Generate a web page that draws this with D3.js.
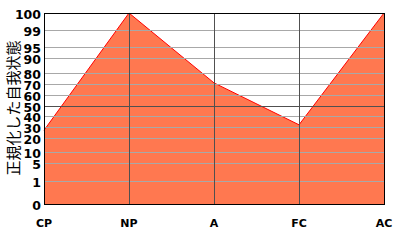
<!DOCTYPE html>
<html><head><meta charset="utf-8">
<script src="https://cdn.jsdelivr.net/npm/d3@7"></script>
<style>html,body{margin:0;padding:0;background:#fff;}svg{display:block;}</style>
</head><body>
<svg id="chart" width="400" height="240"></svg>
<script>
const categories = ["CP", "NP", "A", "FC", "AC"];
const values = [27, 100, 71, 32, 100];
const yTicks = [0, 1, 5, 10, 20, 30, 40, 50, 60, 70, 80, 90, 95, 99, 100];
const yTickLabels = ["0", "1", "5", "10", "20", "30", "40", "50", "60", "70", "80", "90", "95", "99", "100"];
// relative vertical position of each tick (0 = bottom, 1 = top) on the normalized scale
const yTickPos = [0, 23/191, 41/191, 52/191, 66/191, 77/191, 88/191, 98/191, 109/191, 120/191, 131/191, 146/191, 157/191, 174/191, 1];
const yTitle = "正規化した自我状態";

const svg = d3.select("#chart");
const m = {left: 44, right: 16, top: 13, bottom: 36};
const W = 400, H = 240;
const x = d3.scalePoint().domain(categories).range([m.left, W - m.right]);
const y0 = d3.scaleLinear().domain([0, 1]).range([H - m.bottom, m.top]);
const y = d3.scaleLinear().domain(yTicks).range(yTickPos.map(p => Math.round(y0(p))));

// area
const area = d3.area().x((d, i) => x(categories[i])).y0(y(0)).y1(d => y(d));
svg.append("path").datum(values).attr("d", area).attr("fill", "#FF7850");
const line = d3.line().x((d, i) => x(categories[i])).y(d => y(d));
svg.append("path").datum(values).attr("d", line).attr("fill", "none").attr("stroke", "#FF0000").attr("stroke-width", 1);

// horizontal grid
svg.append("g").selectAll("line").data(yTicks.filter(v => v !== 0 && v !== 100)).join("line")
  .attr("x1", m.left).attr("x2", W - m.right)
  .attr("y1", d => y(d) + 0.5).attr("y2", d => y(d) + 0.5)
  .attr("stroke", d => d === 50 ? "#505050" : "#A8A8A8").attr("stroke-width", 1);
// vertical grid
svg.append("g").selectAll("line").data(categories.slice(1, -1)).join("line")
  .attr("x1", d => Math.round(x(d)) + 0.5).attr("x2", d => Math.round(x(d)) + 0.5)
  .attr("y1", m.top).attr("y2", H - m.bottom)
  .attr("stroke", "#505050").attr("stroke-width", 1);
// frame
svg.append("rect").attr("x", m.left + 0.5).attr("y", m.top + 0.5)
  .attr("width", W - m.left - m.right).attr("height", H - m.top - m.bottom)
  .attr("fill", "none").attr("stroke", "#000").attr("stroke-width", 1);

// y labels
svg.append("g").selectAll("text").data(yTicks).join("text")
  .attr("x", m.left - 3).attr("y", d => y(d) + 1)
  .attr("text-anchor", "end").attr("dominant-baseline", "central")
  .attr("font-family", "DejaVu Sans").attr("font-weight", "bold").attr("font-size", 12.5)
  .attr("fill", "#000").text((d, i) => yTickLabels[i]);
// x labels
svg.append("g").selectAll("text").data(categories).join("text")
  .attr("x", d => x(d)).attr("y", H - m.bottom + 19)
  .attr("text-anchor", "middle").attr("dominant-baseline", "central")
  .attr("font-family", "DejaVu Sans").attr("font-weight", "bold").attr("font-size", 11)
  .attr("fill", "#000").text(d => d);
// y title
svg.append("text").attr("transform", "translate(12,108) rotate(-90)")
  .attr("text-anchor", "middle").attr("dominant-baseline", "central")
  .attr("font-family", "Noto Sans CJK JP").attr("font-size", 15).attr("fill", "#000")
  .text(yTitle);
</script>
</body></html>
